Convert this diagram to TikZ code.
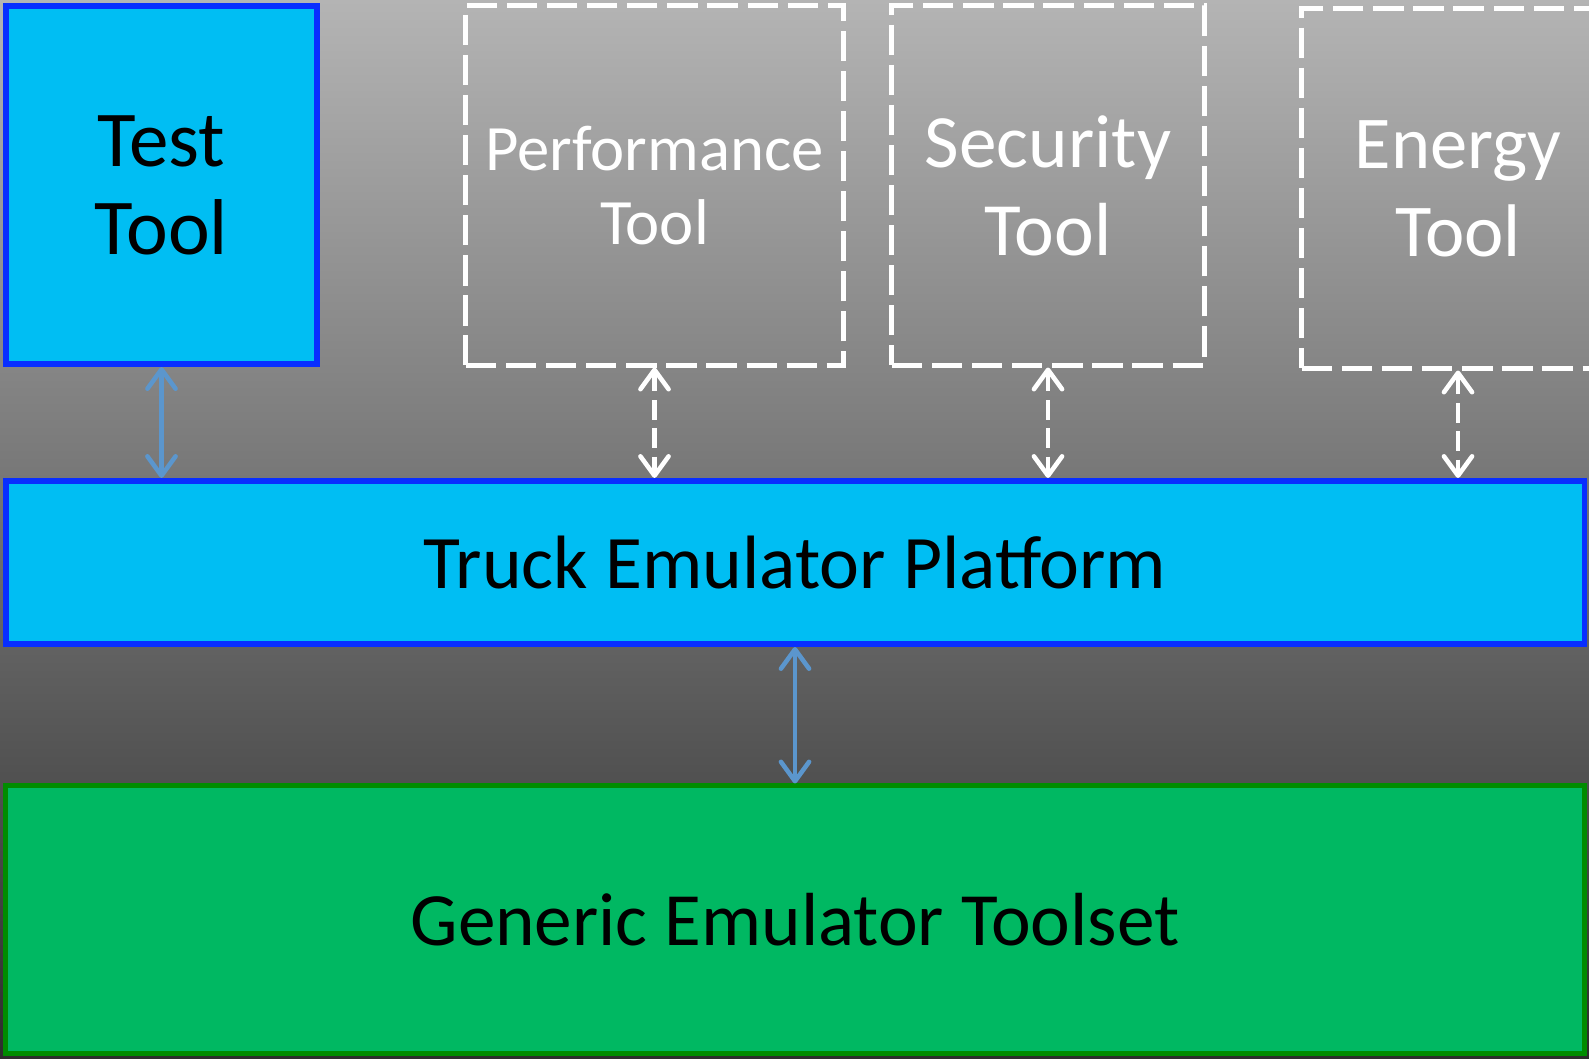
\documentclass[tikz,border=0pt]{standalone}
\usepackage{fontspec}
\setmainfont{Carlito}
\usetikzlibrary{arrows.meta}

\definecolor{boxcyan}{RGB}{0,190,243}
\definecolor{boxblue}{RGB}{8,46,255}
\definecolor{toolgreen}{RGB}{0,184,98}
\definecolor{toolborder}{RGB}{0,140,0}
\definecolor{linkblue}{RGB}{91,150,205}
\definecolor{bgtop}{RGB}{180,180,180}
\definecolor{bgbottom}{RGB}{45,45,45}

\begin{document}
\begin{tikzpicture}[x=0.01cm, y=-0.01cm, >={Straight Barb[length=5.5pt,width=8pt,round]},
    solid box/.style={rectangle, draw=boxblue, fill=boxcyan, line width=1.7pt, inner sep=0pt, text=black},
    ghost box/.style={rectangle, draw=white, line width=1.4pt, dash pattern=on 8.6pt off 2.8pt, inner sep=0pt, text=white, align=center},
    link/.style={draw=linkblue, line width=1.3pt, <->},
    ghost link/.style={draw=white, line width=1.3pt, dash pattern=on 5.5pt off 2.5pt, <->}]

   \clip (0,0) rectangle (1589,1058);
   \shade [top color=bgtop, bottom color=bgbottom] (0,0) rectangle (1589,1058);

   \node [solid box, minimum width=3.11cm, minimum height=3.58cm, align=center,
          font=\fontsize{22.5}{25}\selectfont] (toolTest) at (161.5,185) {Test\\Tool};

   \foreach \n/\x/\y/\w/\fs/\ls in {Performance/654.5/185.5/3.77/18.4/21.3, Security/1048/185.5/3.12/21.4/25, Energy/1458/188.5/3.12/21.2/25}
     \node [ghost box, minimum width=\w cm, minimum height=3.59cm,
            font=\fontsize{\fs}{\ls}\selectfont] (tool\n) at (\x,\y) {\n\\Tool};

   \node [solid box, minimum width=15.78cm, minimum height=1.63cm,
          font=\fontsize{21.5}{26}\selectfont] (platform) at (795,562.5) {Truck Emulator Platform};

   \node [rectangle, draw=toolborder, fill=toolgreen, line width=1.4pt, inner sep=0pt,
          minimum width=15.78cm, minimum height=2.67cm,
          font=\fontsize{21.4}{26}\selectfont] (toolset) at (795,919.5) {Generic Emulator Toolset};

   \draw [link] (toolTest.south) -- (toolTest.south |- platform.north);
   \draw [link] (platform.south) -- (toolset.north);

   \foreach \n in {Performance, Security, Energy}
     \draw [ghost link] (tool\n.south) -- (tool\n.south |- platform.north);

\end{tikzpicture}
\end{document}
